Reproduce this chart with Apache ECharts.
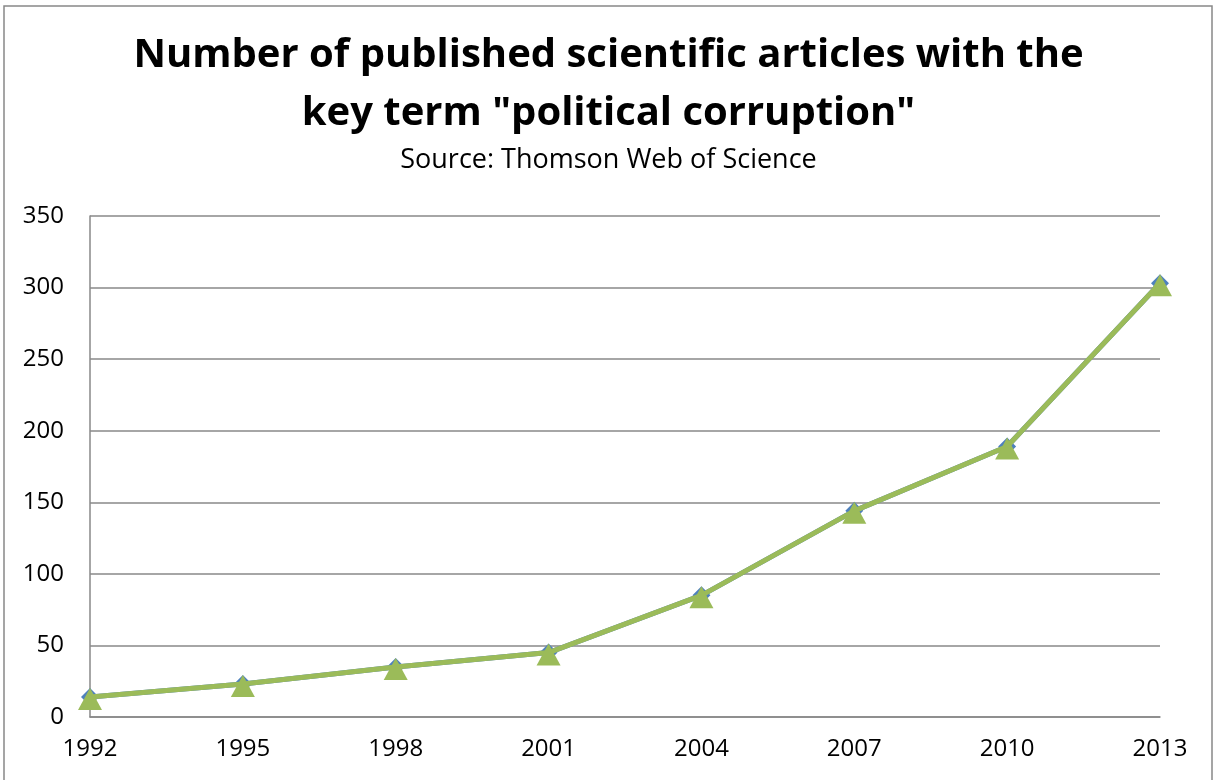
<!DOCTYPE html>
<html>
<head>
<meta charset="utf-8">
<script src="https://cdn.jsdelivr.net/npm/echarts@6/dist/echarts.min.js"></script>
<style>
  html, body { margin: 0; padding: 0; background: #fff; }
  #chart { width: 1217px; height: 780px; }
</style>
</head>
<body>
<div id="chart"></div>
<script>
var years = ['1992', '1995', '1998', '2001', '2004', '2007', '2010', '2013'];
var articles = [14, 23, 35, 45, 85, 144, 189, 303];
var yTicks = [0, 50, 100, 150, 200, 250, 300, 350];

var chartFont = 'Open Sans';
var myChart = echarts.init(document.getElementById('chart'));

var option = {
    backgroundColor: '#fff',
    animation: false,
    title: [{
        text: 'Number of published scientific articles with the\nkey term "political corruption"',
        left: 'center',
        top: 22,
        textStyle: {
            fontFamily: chartFont,
            fontWeight: 'bold',
            fontSize: 40,
            lineHeight: 58,
            color: '#000'
        }
    }, {
        text: 'Source: Thomson Web of Science',
        left: 'center',
        top: 142,
        textStyle: {
            fontFamily: chartFont,
            fontWeight: 'normal',
            fontSize: 27,
            color: '#000'
        }
    }],
    graphic: [{
        type: 'rect',
        shape: { x: 4, y: 6, width: 1208, height: 800 },
        style: { fill: 'none', stroke: '#888', lineWidth: 1.5 }
    }],
    grid: { left: 90, right: 57, top: 216, bottom: 63 },
    xAxis: {
        type: 'category',
        data: years,
        boundaryGap: false,
        axisLine: { lineStyle: { color: '#888', width: 1.5 } },
        axisTick: { show: false },
        axisLabel: { color: '#000', fontSize: 24, fontFamily: chartFont, margin: 20 }
    },
    yAxis: {
        type: 'value',
        min: yTicks[0],
        max: yTicks[yTicks.length - 1],
        interval: 50,
        axisLine: { show: true, lineStyle: { color: '#888', width: 1.5 } },
        axisTick: { show: false },
        splitLine: { lineStyle: { color: '#888', width: 1.5 } },
        axisLabel: { color: '#000', fontSize: 24, fontFamily: chartFont, margin: 26 }
    },
    series: [{
        name: 'blue',
        type: 'line',
        data: articles,
        symbol: 'diamond',
        symbolSize: 18,
        lineStyle: { color: '#4F81BD', width: 5 },
        itemStyle: { color: '#4F81BD' },
        z: 2
    }, {
        name: 'green',
        type: 'line',
        data: articles,
        symbol: 'triangle',
        symbolSize: [24, 22],
        symbolOffset: [0, 2],
        lineStyle: { color: '#9BBB59', width: 5 },
        itemStyle: { color: '#9BBB59' },
        z: 3
    }]
};
myChart.setOption(option);
</script>
</body>
</html>
